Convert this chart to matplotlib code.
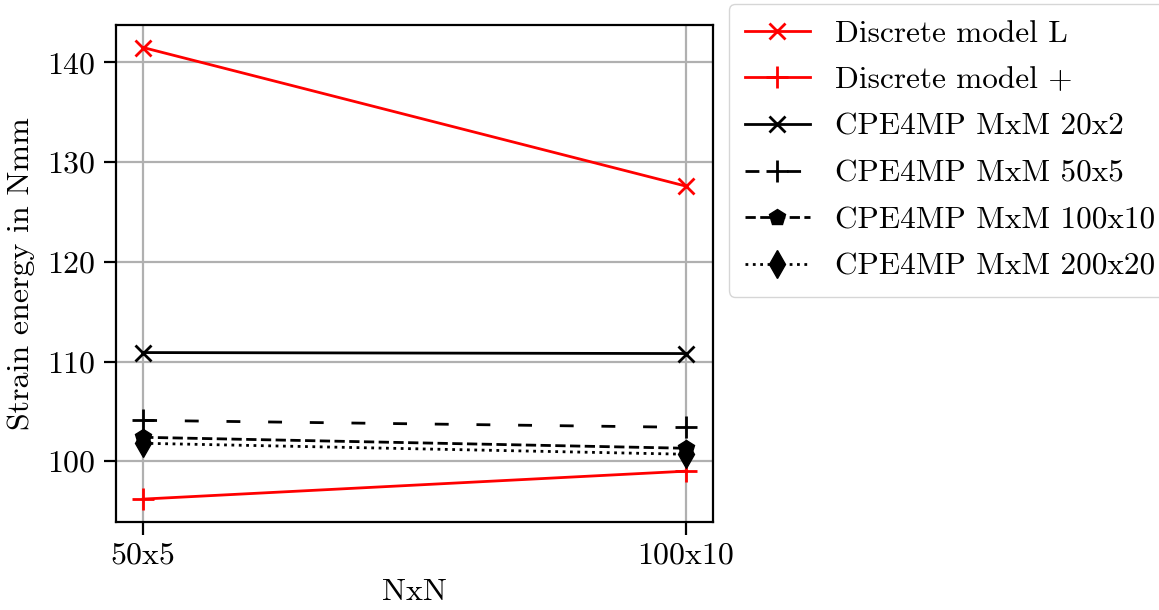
import matplotlib
matplotlib.use("Agg")
import matplotlib.pyplot as plt

plt.rcParams["font.family"] = "serif"
plt.rcParams["font.serif"] = ["cmr10"]
plt.rcParams["mathtext.fontset"] = "cm"
plt.rcParams["axes.formatter.use_mathtext"] = True

# mesh resolutions (x axis)
meshes = ["50x5", "100x10"]

# strain energy values in Nmm
discrete_L = [141.5, 127.6]
discrete_plus = [96.2, 99.0]
cpe_20x2 = [110.9, 110.8]
cpe_50x5 = [104.1, 103.4]
cpe_100x10 = [102.4, 101.3]
cpe_200x20 = [101.8, 100.7]

fig = plt.figure(figsize=(11.59, 6.10), dpi=100)
ax = fig.add_axes([0.1001, 0.1448, 0.515, 0.8143])

lw = 2.0
ms = 12
ax.plot(meshes, discrete_L, color="red", marker="x", lw=lw, ms=ms, mew=lw,
        label="Discrete model L")
ax.plot(meshes, discrete_plus, color="red", marker="+", lw=lw, ms=ms + 4, mew=lw,
        label="Discrete model +")
ax.plot(meshes, cpe_20x2, color="black", marker="x", lw=lw, ms=ms, mew=lw,
        label="CPE4MP MxM 20x2")
ax.plot(meshes, cpe_50x5, color="black", marker="+", lw=lw, ms=ms + 4, mew=lw,
        linestyle=(0, (5, 10)), label="CPE4MP MxM 50x5")
ax.plot(meshes, cpe_100x10, color="black", marker="p", lw=lw, ms=ms, linestyle="--",
        label="CPE4MP MxM 100x10")
ax.plot(meshes, cpe_200x20, color="black", marker="d", lw=lw, ms=ms + 2, linestyle=":",
        label="CPE4MP MxM 200x20")

ax.grid(True, color="#b0b0b0", lw=1.6)
ax.set_axisbelow(True)
for s in ax.spines.values():
    s.set_linewidth(1.6)
ax.tick_params(labelsize=23, length=9, width=1.6, pad=6)
ax.set_yticks([100, 110, 120, 130, 140])
ax.set_xlabel("NxN", fontsize=23, labelpad=6)
ax.set_ylabel("Strain energy in Nmm", fontsize=23, labelpad=8)

ax.legend(loc="upper left", bbox_to_anchor=(1.027, 1.0423), borderaxespad=0,
          fontsize=22.5, handlelength=2.1, framealpha=0.8, edgecolor="#cccccc",
          labelspacing=0.6, borderpad=0.5)

fig.savefig("out.png", dpi=100)
